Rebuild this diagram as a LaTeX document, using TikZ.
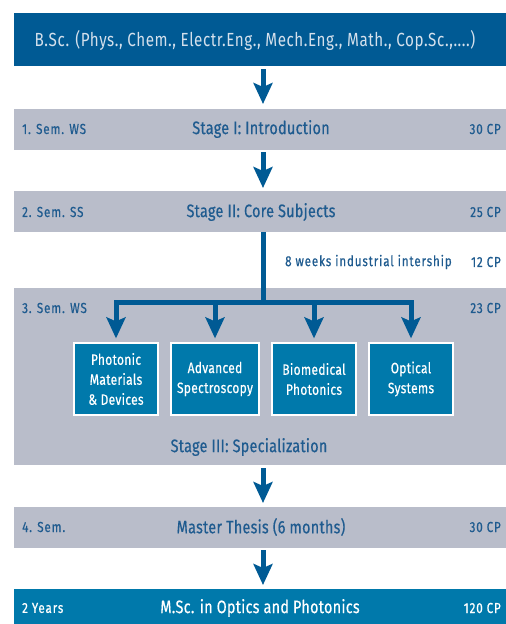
\documentclass[tikz,border=0pt]{standalone}
\usepackage{fontspec}
\setmainfont{Fira Sans}[FakeStretch=0.8, LetterSpace=3]
\newfontfamily\lblfont{Fira Sans}[FakeStretch=0.8, LetterSpace=6, FakeBold=0.5]
\newfontfamily\headfont{Fira Sans}[FakeStretch=0.8, LetterSpace=1.5, FakeBold=0.5]
\newfontfamily\specfont{Fira Sans}[FakeStretch=0.8, LetterSpace=2, FakeBold=0.5]
\usetikzlibrary{arrows.meta}
\definecolor{dblue}{HTML}{005A94}
\definecolor{mblue}{HTML}{0079AB}
\definecolor{bandc}{HTML}{B9BDCA}
\definecolor{tblue}{HTML}{1F5B8F}
\definecolor{toptext}{HTML}{D4E0EC}
\tikzset{
  fullbox/.style={anchor=north west, minimum width=492pt, inner sep=0pt, outer sep=0pt},
  bandbox/.style={fullbox, fill=bandc, draw=none},
  bluebox/.style={fullbox, fill=dblue, draw=none},
  mscbox/.style={fullbox, fill=mblue, draw=none},
  lbl/.style={text=tblue, font=\lblfont\fontsize{14.5}{16}\selectfont, inner sep=0pt},
  head/.style={text=tblue, font=\headfont\fontsize{18}{20}\selectfont, inner sep=0pt},
  spec/.style={draw=white, line width=1.2pt, fill=mblue, text=white, minimum height=72pt, align=center, inner sep=0pt, font=\specfont\fontsize{15}{20}\selectfont},
  arr/.style={draw=dblue, line width=5pt, -{Stealth[length=21pt, width=19pt, inset=4pt]}},
  bar/.style={draw=dblue, line width=5pt},
}
\begin{document}
\begin{tikzpicture}[x=1pt,y=-1pt]
\useasboundingbox (0,0) rectangle (506,624);
\node[bluebox, minimum height=53pt] (top) at (14,13) {};
\node[bandbox, minimum height=41pt] (b1) at (14,109) {};
\node[bandbox, minimum height=41pt] (b2) at (14,191) {};
\node[bandbox, minimum height=177pt] (b3) at (14,288) {};
\node[bandbox, minimum height=41pt] (b4) at (14,507) {};
\node[mscbox, minimum height=35pt] (msc) at (14,589) {};
\coordinate (ax) at (263,0);
\coordinate (join) at (263,302);

\node[text=toptext, font=\fontsize{19}{21}\selectfont, inner sep=0pt] (toptxt) at (255,40) {B.Sc. (Phys., Chem., Electr.Eng., Mech.Eng., Math., Cop.Sc.,....)};

\node[lbl, anchor=west] (l1) at (22,129) {1. Sem. WS};
\node[head] (h1) at (261,129) {Stage I: Introduction};
\node[lbl, anchor=east] (c1) at (501,129) {30 CP};

\node[lbl, anchor=west] (l2) at (22,212) {2. Sem. SS};
\node[head] (h2) at (261,212) {Stage II: Core Subjects};
\node[lbl, anchor=east] (c2) at (501,212) {25 CP};

\node[lbl, anchor=west] (ind) at (285,262) {8 weeks industrial intership};
\node[lbl, anchor=east] (ci) at (501,262) {12 CP};

\node[lbl, anchor=west] (l3) at (22,308) {3. Sem. WS};
\node[lbl, anchor=east] (c3) at (501,308) {23 CP};
\node[head] (h3) at (249,447) {Stage III: Specialization};

\node[spec, minimum width=84pt] (p1) at (116,379) {Photonic\\Materials\\\& Devices};
\node[spec, minimum width=88pt] (p2) at (215,379) {Advanced\\Spectroscopy};
\node[spec, minimum width=84pt] (p3) at (314,379) {Biomedical\\Photonics};
\node[spec, minimum width=84pt] (p4) at (411,379) {Optical\\Systems};

\node[lbl, anchor=west] (l4) at (22,527) {4. Sem.};
\node[head] (h4) at (261,527) {Master Thesis (6 months)};
\node[lbl, anchor=east] (c4) at (501,527) {30 CP};

\node[lbl, text=white, anchor=west] (l5) at (22,608) {2 Years};
\node[head, text=white] (h5) at (260,608) {M.Sc. in Optics and Photonics};
\node[lbl, text=white, anchor=east] (c5) at (501,608) {120 CP};

\draw[arr] ([yshift=-3pt]top.south -| ax) -- ([yshift=5pt]b1.north -| ax);
\draw[arr] ([yshift=-2pt]b1.south -| ax) -- ([yshift=3pt]b2.north -| ax);
\draw[bar] (b2.south -| ax) -- ([yshift=2.5pt]join);
\draw[arr] ([xshift=2.5pt]join) -| ([yshift=4pt]p1.north);
\draw[arr] (join) -| ([yshift=4pt]p2.north);
\draw[arr] (join) -| ([yshift=4pt]p3.north);
\draw[arr] ([xshift=-2.5pt]join) -| ([yshift=4pt]p4.north);
\draw[arr] ([yshift=-3pt]b3.south -| ax) -- ([yshift=4pt]b4.north -| ax);
\draw[arr] ([yshift=-2pt]b4.south -| ax) -- ([yshift=4pt]msc.north -| ax);
\end{tikzpicture}
\end{document}
